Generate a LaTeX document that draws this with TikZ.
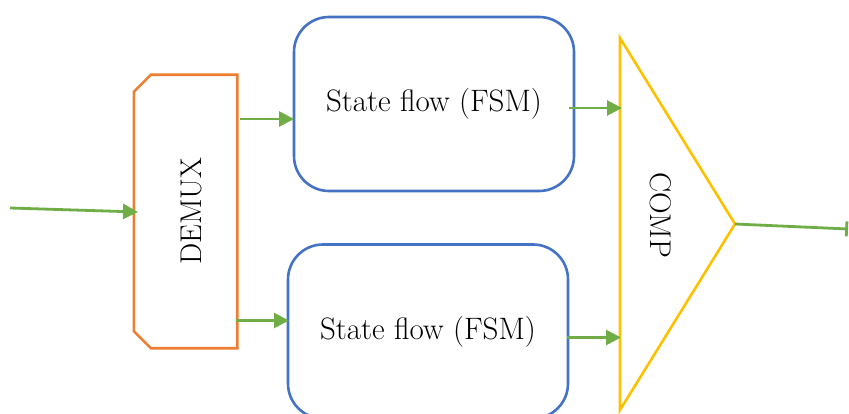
\documentclass[tikz,border=0pt]{standalone}
\usetikzlibrary{arrows.meta}

\definecolor{demuxorange}{RGB}{237,125,49}
\definecolor{fsmblue}{RGB}{68,114,196}
\definecolor{compyellow}{RGB}{255,192,0}
\definecolor{wiregreen}{RGB}{112,173,71}

\tikzset{
  fsm/.style={draw=fsmblue,line width=2.6pt,rounded corners=35pt,
    minimum width=280pt,minimum height=174pt,font=\fontsize{31}{37}\selectfont},
  demuxbox/.style={rectangle,minimum width=103pt,minimum height=273pt,inner sep=0pt},
  wire/.style={draw=wiregreen,line width=2.8pt,-{Triangle[length=15pt,width=15pt]}}
}

\begin{document}
\begin{tikzpicture}[x=1pt, y=-1pt]
            \tikzstyle{blocklabel}=[font=\fontsize{30}{36}\selectfont,inner sep=0pt]
            \useasboundingbox (0,0) rectangle (849,414);
            \clip (0,0) rectangle (849,414);

            \node[demuxbox] (D) at (185.5,211.5) {};
            \draw[demuxorange,line width=2.6pt,line join=miter]
                ([yshift=-17pt]D.north west) -- ([xshift=17pt]D.north west) -- (D.north east)
                -- (D.south east) -- ([xshift=17pt]D.south west) -- ([yshift=17pt]D.south west) -- cycle;
            \node[blocklabel,rotate=90] (D_l) at (191,211) {DEMUX};

            \node[fsm] (F_1) at (434,104) {State flow (FSM)};
            \node[fsm] (F_2) at (428,331.5) {State flow (FSM)};

            \coordinate (C_t) at (620,38);
            \coordinate (C_b) at (620,410);
            \coordinate (C_o) at (735,224);
            \draw[compyellow,line width=2.6pt,line join=miter] (C_t) -- (C_b) -- (C_o) -- cycle;
            \node[blocklabel,rotate=-90] (C_l) at (661,215) {COMP};

            % wires
            \coordinate (in) at (10,208);
            \coordinate (out) at (848,229);
            \draw[wire] (in) -- (138,212);
            \draw[wire] (240,119) coordinate (D_o1) -- (294,119) coordinate (F_1i);
            \draw[wire] (236,320.5) coordinate (D_o2) -- (289,320.5) coordinate (F_2i);
            \draw[wire] (569,108) coordinate (F_1o) -- (622,108) coordinate (C_i1);
            \draw[wire] (567,337.5) coordinate (F_2o) -- (621,337.5) coordinate (C_i2);
            \draw[wiregreen,line width=2.8pt,-{Bar[width=15pt]}] (C_o) -- (out);
\end{tikzpicture}
\end{document}
